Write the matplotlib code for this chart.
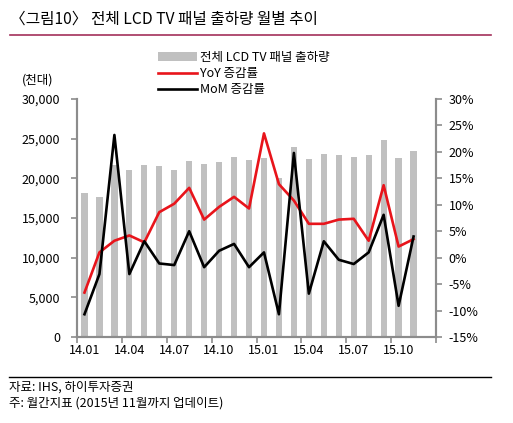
import matplotlib
matplotlib.use("Agg")
import matplotlib.pyplot as plt
from matplotlib.ticker import FuncFormatter, FixedLocator

plt.rcParams['font.family'] = ['Noto Sans CJK KR', 'DejaVu Sans']

# monthly data, 14.01 ~ 15.11
months = ['14.01', '14.02', '14.03', '14.04', '14.05', '14.06', '14.07', '14.08',
          '14.09', '14.10', '14.11', '14.12', '15.01', '15.02', '15.03', '15.04',
          '15.05', '15.06', '15.07', '15.08', '15.09', '15.10', '15.11']
shipments = [18100, 17600, 21650, 21000, 21700, 21500, 21100, 22200, 21800, 22100,
             22700, 22300, 22500, 20100, 24000, 22400, 23100, 22950, 22700, 22950,
             24800, 22500, 23450]
yoy = [-6.6, 1.0, 3.2, 4.2, 2.9, 8.6, 10.2, 13.2, 7.2, 9.6, 11.5, 9.3,
       23.5, 13.9, 10.8, 6.4, 6.4, 7.2, 7.35, 3.2, 13.7, 2.1, 3.5]
mom = [-10.7, -3.1, 23.2, -3.1, 3.1, -1.1, -1.4, 5.0, -1.8, 1.3, 2.6, -1.8,
       1.0, -10.7, 19.8, -6.8, 3.1, -0.4, -1.2, 1.0, 8.1, -9.1, 4.0]
label_months = ['14.01', '14.04', '14.07', '14.10', '15.01', '15.04', '15.07', '15.10']

axis_gray = '#8c8c8c'

fig = plt.figure(figsize=(5.13, 4.23), dpi=100)
ax = fig.add_axes([77 / 513, 1 - 337 / 423, (436 - 77) / 513, (337 - 99) / 423])
ax2 = ax.twinx()

x = list(range(len(months)))
bars = ax.bar(x, shipments, width=0.42, color='#c0c0c0', label='전체 LCD TV 패널 출하량', zorder=1)
l1, = ax2.plot(x, yoy, color='#e8141b', lw=1.9, label='YoY 증감률', zorder=3)
l2, = ax2.plot(x, mom, color='black', lw=1.9, label='MoM 증감률', zorder=4)

n_slots = 24
ax.set_xlim(-0.5, n_slots - 0.5)
ax.set_ylim(0, 30000)
ax2.set_ylim(-15, 30)
ax.set_yticks(range(0, 30001, 5000))
ax2.set_yticks(range(-15, 31, 5))
ax.yaxis.set_major_formatter(FuncFormatter(lambda v, p: f'{int(v):,}'))
ax2.yaxis.set_major_formatter(FuncFormatter(lambda v, p: f'{int(v)}%'))

# ticks at category boundaries, labels at category centres
ax.xaxis.set_major_locator(FixedLocator([i - 0.5 for i in range(0, n_slots + 1, 3)]))
ax.xaxis.set_major_formatter(FuncFormatter(lambda v, p: ''))
ax.xaxis.set_minor_locator(FixedLocator([months.index(m) for m in label_months]))
ax.set_xticklabels(label_months, minor=True)
ax.tick_params(axis='x', which='minor', length=0, labelsize=9, pad=5)
ax.tick_params(axis='x', which='major', length=4, width=1.2, color=axis_gray)
ax.tick_params(axis='y', length=4, width=1.2, color=axis_gray, labelsize=9, pad=8)
ax2.tick_params(axis='y', length=4, width=1.2, color=axis_gray, labelsize=9, pad=5)

for a in (ax, ax2):
    a.spines['top'].set_visible(False)
    for s in ('left', 'right', 'bottom'):
        a.spines[s].set_color(axis_gray)
        a.spines[s].set_linewidth(1.5)

fig.legend(handles=[bars, l1, l2], loc='upper left', bbox_to_anchor=(158 / 513, 1 - 51 / 423),
           frameon=False, fontsize=9, handlelength=3.1, handletextpad=0.3,
           labelspacing=0.25, borderpad=0, borderaxespad=0)

fig.text(22 / 513, 1 - 80 / 423, '(천대)', fontsize=9, va='center', ha='left')

fig.text(10 / 513, 1 - 19 / 423, '〈그림10〉 전체 LCD TV 패널 출하량 월별 추이',
         fontsize=11.3, va='center', ha='left')
fig.add_artist(plt.Line2D([10 / 513, 491 / 513], [1 - 35 / 423, 1 - 35 / 423],
                          color='#a3305a', lw=1.2))
fig.add_artist(plt.Line2D([9 / 513, 491 / 513], [1 - 377 / 423, 1 - 377 / 423],
                          color='black', lw=1.0))
fig.text(9 / 513, 1 - 387 / 423, '자료: IHS, 하이투자증권', fontsize=9, va='center', ha='left')
fig.text(9 / 513, 1 - 403 / 423, '주: 월간지표 (2015년 11월까지 업데이트)', fontsize=9,
         va='center', ha='left')

fig.savefig('out.png', dpi=100)
